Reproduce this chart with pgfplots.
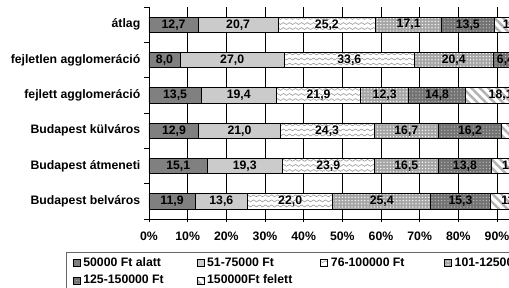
\documentclass[border=0pt]{standalone}
\usepackage{fontspec}
\setmainfont{Liberation Sans}
\usepackage{pgfplots}
\pgfplotsset{compat=1.18}
\usepackage{pgfplotstable}
\usetikzlibrary{patterns,patterns.meta}

\tikzdeclarepattern{
  name=mywaves,
  type=uncolored,
  bottom left={(0pt,-1.9pt)},
  top right={(4.5pt,1.9pt)},
  tile size={(4.5pt,3.8pt)},
  code={
    \draw[line width=0.45pt] (0pt,0pt) sin (1.125pt,0.7pt) cos (2.25pt,0pt) sin (3.375pt,-0.7pt) cos (4.5pt,0pt);
  }
}

\newcommand{\lf}{\bfseries\fontsize{9.2}{11}\selectfont}

\pgfplotstableread{
y a b c d e f
0 11.9 13.6 22.0 25.4 15.3 11.8
1 15.1 19.3 23.9 16.5 13.8 11.4
2 12.9 21.0 24.3 16.7 16.2 8.9
3 13.5 19.4 21.9 12.3 14.8 18.1
4 8.0 27.0 33.6 20.4 6.4 4.6
5 12.7 20.7 25.2 17.1 13.5 10.8
}\data

\pgfplotsset{
  sq legend/.style={legend image code/.code={\draw[##1] (0pt,-2.6pt) rectangle (5.25pt,2.6pt);}},
  common/.style={scale only axis, width=290pt, height=159pt,
    xmin=0, xmax=100, ymin=-0.5, ymax=5.5},
}

\begin{document}
\begin{tikzpicture}[font=\lf]
\begin{axis}[
  common,
  xbar stacked, bar width=11.5pt,
  axis x line*=bottom, axis y line*=left,
  axis line style={black, line width=0.7pt},
  xtick={0,10,...,100},
  xticklabel={\pgfmathprintnumber{\tick}\%},
  /pgf/number format/assume math mode=true,
  xmajorgrids, grid style={black, line width=0.6pt},
  tick align=outside,
  major tick length=2.5pt,
  minor tick length=4pt,
  ytick={0,...,5},
  yticklabels={Budapest belváros, Budapest átmeneti, Budapest külváros, fejlett agglomeráció, fejletlen agglomeráció, átlag},
  major y tick style={draw=none},
  minor ytick={-0.5,0.5,1.5,2.5,3.5,4.5,5.5},
  minor y tick style={black, line width=0.6pt},
  major x tick style={black, line width=0.6pt},
  every tick label/.append style={font=\lf},
  yticklabel style={xshift=-0.5pt},
  xticklabel style={yshift=-3.5pt},
  legend columns=4,
  legend cell align=left,
  legend style={at={(0,0)}, anchor=north west, xshift=-62pt, yshift=-24.5pt,
    draw=black!60, line width=0.8pt, font=\lf, inner xsep=4.5pt, row sep=1pt,
    /tikz/every even column/.append style={column sep=0pt}},
]
\addplot[sq legend, draw=black, line width=0.6pt, fill=black!50] table[x=a, y=y]{\data};
\addlegendentry{\makebox[83pt][l]{50000 Ft alatt}}
\addplot[sq legend, draw=black, line width=0.6pt, fill=black!18,
  postaction={pattern={Dots[distance=1.5pt, radius=0.35pt]}, pattern color=black!45}] table[x=b, y=y]{\data};
\addlegendentry{\makebox[83pt][l]{51-75000 Ft}}
\addplot[sq legend, draw=black, line width=0.6pt, fill=white,
  postaction={pattern=mywaves, pattern color=black!40}] table[x=c, y=y]{\data};
\addlegendentry{\makebox[83pt][l]{76-100000 Ft}}
\addplot[sq legend, draw=black, line width=0.6pt, fill=black!35,
  postaction={pattern={Dots[distance=2.4pt, radius=0.55pt]}, pattern color=white}] table[x=d, y=y]{\data};
\addlegendentry{\makebox[83pt][l]{101-125000 Ft}}
\addplot[sq legend, draw=black, line width=0.6pt, fill=black!55,
  postaction={pattern={Dots[distance=2.4pt, radius=0.45pt]}, pattern color=black!20}] table[x=e, y=y]{\data};
\addlegendentry{\makebox[83pt][l]{125-150000 Ft}}
\addplot[sq legend, draw=black, line width=0.6pt, fill=white,
  postaction={pattern={Lines[angle=-45, distance=4.5pt, line width=1.8pt]}, pattern color=black!30}] table[x=f, y=y]{\data};
\addlegendentry{\makebox[83pt][l]{150000Ft felett}}
\end{axis}
\begin{axis}[
  common, hide axis, clip=false,
  point meta=explicit,
  /pgf/number format/assume math mode=true,
  nodes near coords={\pgfmathprintnumber[fixed,fixed zerofill,precision=1,use comma,assume math mode=true]{\pgfplotspointmeta}},
  every node near coord/.append style={anchor=center, font=\lf, inner sep=0pt, text=black},
]
\addplot[draw=none] table[x expr=\thisrow{a}/2, y=y, meta=a]{\data};
\addplot[draw=none] table[x expr=\thisrow{a}+\thisrow{b}/2, y=y, meta=b]{\data};
\addplot[draw=none] table[x expr=\thisrow{a}+\thisrow{b}+\thisrow{c}/2, y=y, meta=c]{\data};
\addplot[draw=none] table[x expr=\thisrow{a}+\thisrow{b}+\thisrow{c}+\thisrow{d}/2, y=y, meta=d]{\data};
\addplot[draw=none] table[x expr=\thisrow{a}+\thisrow{b}+\thisrow{c}+\thisrow{d}+\thisrow{e}/2, y=y, meta=e]{\data};
\addplot[draw=none] table[x expr=\thisrow{a}+\thisrow{b}+\thisrow{c}+\thisrow{d}+\thisrow{e}+\thisrow{f}/2, y=y, meta=f]{\data};
\end{axis}
\pgfresetboundingbox
\path[use as bounding box] (-111.75pt,-51pt) rectangle (270pt,164.25pt);
\end{tikzpicture}
\end{document}
